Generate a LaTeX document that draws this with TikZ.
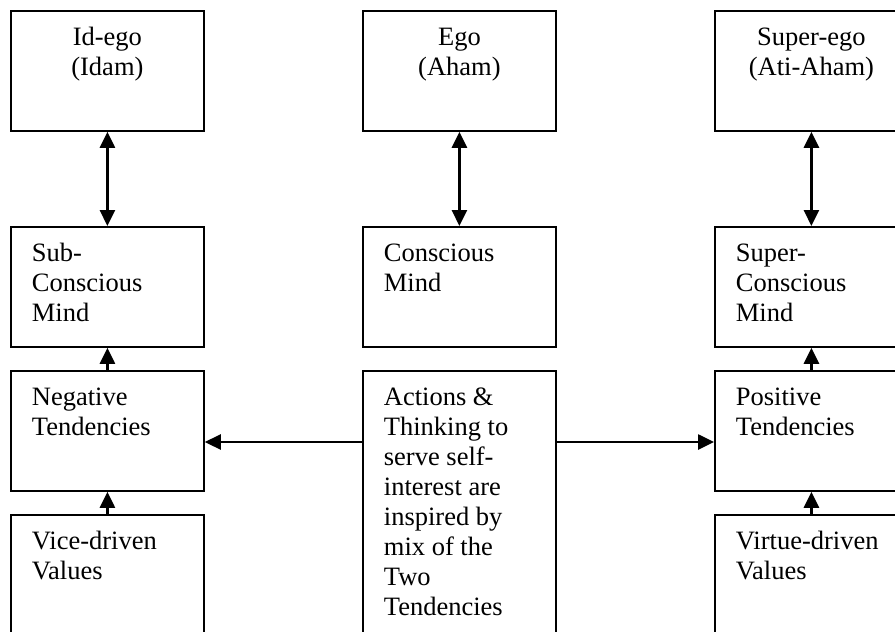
\documentclass[tikz,border=0pt]{standalone}
\usepackage{fontspec}
\setmainfont{Liberation Serif}
\usetikzlibrary{arrows.meta}
\newcommand\boxL[2]{\parbox[c][#1][t]{151pt}{\raggedright\rule{0pt}{35pt}#2}}
\newcommand\boxC[2]{\parbox[c][#1][t]{151pt}{\centering\rule{0pt}{35pt}#2}}
\begin{document}
\begin{tikzpicture}[x=1pt,y=-1pt,
  box/.style={draw,line width=1.8pt,inner sep=0pt,anchor=north west,minimum width=193pt,
    font=\fontsize{26.5}{30}\selectfont},
  arr/.style={line width=2.6pt,-{Triangle[width=15pt,length=16pt]}},
  darr/.style={line width=2.6pt,{Triangle[width=15pt,length=16pt]}-{Triangle[width=15pt,length=16pt]}}]
\useasboundingbox (0,0) rectangle (895,632);
\fill[white] (0,0) rectangle (895,632);
\clip (0,0) rectangle (895,632);
% top row
\node[box,minimum height=120pt] (idego) at (10,10) {\boxC{120pt}{Id-ego\\(Idam)}};
\node[box,minimum height=120pt] (ego) at (362,10) {\boxC{120pt}{Ego\\(Aham)}};
\node[box,minimum height=120pt] (super) at (714,10) {\boxC{120pt}{Super-ego\\(Ati-Aham)}};
% second row
\node[box,minimum height=120pt] (subc) at (10,226) {\boxL{120pt}{Sub-\\Conscious\\Mind}};
\node[box,minimum height=120pt] (consc) at (362,226) {\boxL{120pt}{Conscious\\Mind}};
\node[box,minimum height=120pt] (supc) at (714,226) {\boxL{120pt}{Super-\\Conscious\\Mind}};
% third row
\node[box,minimum height=120pt] (neg) at (10,370) {\boxL{120pt}{Negative\\Tendencies}};
\node[box,minimum height=290pt] (act) at (362,370) {\boxL{290pt}{Actions \&\\Thinking to\\serve self-\\interest are\\inspired by\\mix of the\\Two\\Tendencies}};
\node[box,minimum height=120pt] (pos) at (714,370) {\boxL{120pt}{Positive\\Tendencies}};
% fourth row
\node[box,minimum height=146pt] (vice) at (10,514) {\boxL{146pt}{Vice-driven\\Values}};
\node[box,minimum height=146pt] (virt) at (714,514) {\boxL{146pt}{Virtue-driven\\Values}};
% connectors
\draw[darr] (idego.south) -- (subc.north);
\draw[darr] (ego.south) -- (consc.north);
\draw[darr] (super.south) -- (supc.north);
\draw[arr] (neg.north) -- (subc.south);
\draw[arr] (pos.north) -- (supc.south);
\draw[arr] (vice.north) -- (neg.south);
\draw[arr] (virt.north) -- (pos.south);
\coordinate (hy) at (0,442);
\draw[arr] (act.west |- hy) -- (neg.east |- hy);
\draw[arr] (act.east |- hy) -- (pos.west |- hy);
\end{tikzpicture}
\end{document}
